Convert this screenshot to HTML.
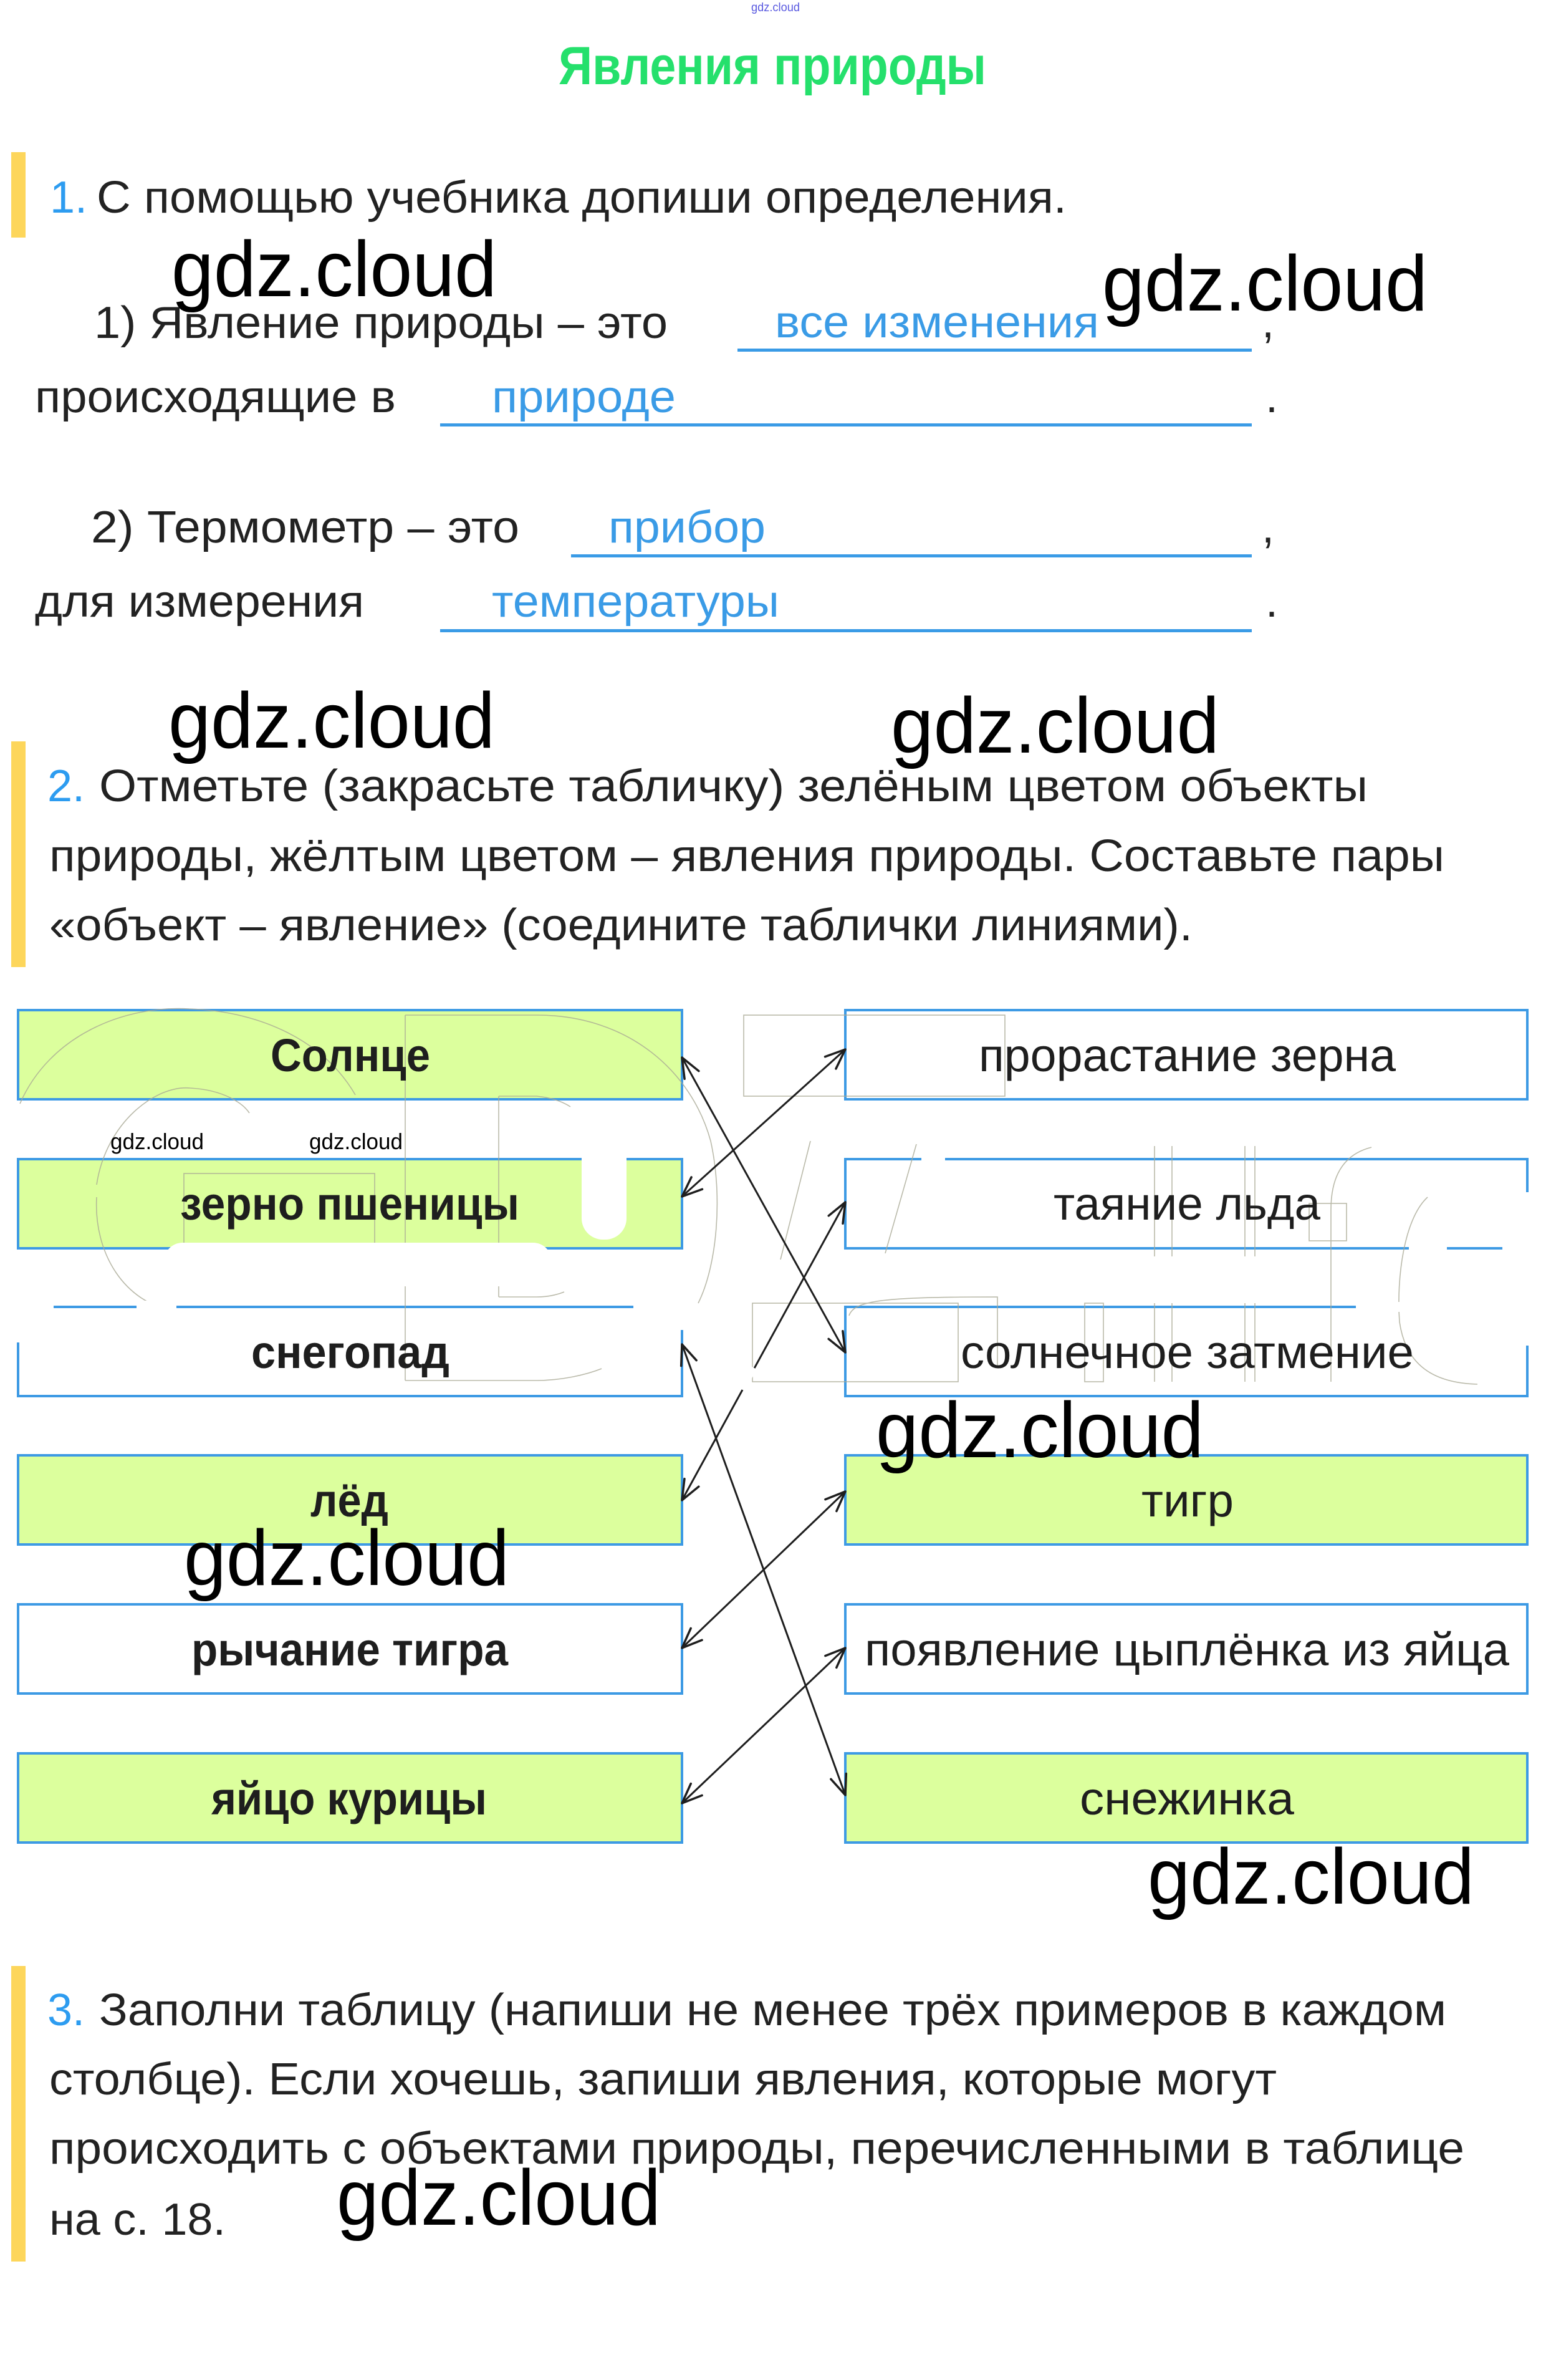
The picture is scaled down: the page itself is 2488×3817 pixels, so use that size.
<!DOCTYPE html>
<html><head><meta charset="utf-8"><style>
html,body{margin:0;padding:0;background:#fff;}
svg{display:block;}
text{font-family:"Liberation Sans","DejaVu Sans",sans-serif;}
</style></head><body>
<svg width="2488" height="3817" viewBox="0 0 2488 3817" xmlns="http://www.w3.org/2000/svg">
<defs>
<marker id="ah" markerUnits="userSpaceOnUse" markerWidth="50" markerHeight="50" viewBox="-40 -25 50 50" refX="0" refY="0" orient="auto-start-reverse">
<path d="M-32,-13 L0,0 L-32,13" fill="none" stroke="#1e1e1e" stroke-width="3.5" stroke-linecap="round" stroke-linejoin="round"/>
</marker>
</defs>
<rect width="2488" height="3817" fill="#fff"/>

<!-- tiny top mark -->
<text x="1205" y="18" font-size="19" fill="#5a5ae0" textLength="78" lengthAdjust="spacingAndGlyphs">gdz.cloud</text>

<!-- Title -->
<text x="896" y="135" font-size="86" font-weight="bold" fill="#25e06c" textLength="686" lengthAdjust="spacingAndGlyphs">Явления природы</text>

<!-- Section 1 -->
<rect x="18" y="244" width="23" height="137" fill="#fdd65b"/>
<text x="80" y="341" font-size="72" fill="#2d9cf0">1.</text>
<text x="155" y="341" font-size="72" fill="#222" textLength="1556" lengthAdjust="spacingAndGlyphs">С помощью учебника допиши определения.</text>

<text x="151" y="542" font-size="72" fill="#222" textLength="920" lengthAdjust="spacingAndGlyphs">1) Явление природы – это</text>
<text x="1243" y="541" font-size="72" fill="#3a9be6" textLength="520" lengthAdjust="spacingAndGlyphs">все изменения</text>
<rect x="1183" y="559" width="825" height="5" fill="#3a9be6"/>
<text x="2024" y="541" font-size="72" fill="#222">,</text>

<text x="56" y="661" font-size="72" fill="#222" textLength="579" lengthAdjust="spacingAndGlyphs">происходящие в</text>
<text x="789" y="661" font-size="72" fill="#3a9be6" textLength="295" lengthAdjust="spacingAndGlyphs">природе</text>
<rect x="706" y="679" width="1302" height="5" fill="#3a9be6"/>
<text x="2030" y="661" font-size="72" fill="#222">.</text>

<text x="146" y="870" font-size="72" fill="#222" textLength="687" lengthAdjust="spacingAndGlyphs">2) Термометр – это</text>
<text x="976" y="870" font-size="72" fill="#3a9be6" textLength="252" lengthAdjust="spacingAndGlyphs">прибор</text>
<rect x="916" y="889" width="1092" height="5" fill="#3a9be6"/>
<text x="2024" y="870" font-size="72" fill="#222">,</text>

<text x="56" y="989" font-size="72" fill="#222" textLength="528" lengthAdjust="spacingAndGlyphs">для измерения</text>
<text x="789" y="989" font-size="72" fill="#3a9be6" textLength="461" lengthAdjust="spacingAndGlyphs">температуры</text>
<rect x="706" y="1009" width="1302" height="5" fill="#3a9be6"/>
<text x="2030" y="989" font-size="72" fill="#222">.</text>

<!-- Section 2 -->
<rect x="18" y="1189" width="23" height="362" fill="#fdd65b"/>
<text x="76" y="1285" font-size="72" fill="#2d9cf0">2.</text>
<text x="159" y="1285" font-size="72" fill="#222" textLength="2035" lengthAdjust="spacingAndGlyphs">Отметьте (закрасьте табличку) зелёным цветом объекты</text>
<text x="79" y="1397" font-size="72" fill="#222" textLength="2238" lengthAdjust="spacingAndGlyphs">природы, жёлтым цветом – явления природы. Составьте пары</text>
<text x="79" y="1508" font-size="72" fill="#222" textLength="1834" lengthAdjust="spacingAndGlyphs">«объект – явление» (соедините таблички линиями).</text>

<!-- Left boxes -->
<g stroke="#3d9ae4" stroke-width="4">
<rect x="29" y="1620" width="1065" height="143" fill="#dcff9d"/>
<rect x="29" y="1859" width="1065" height="143" fill="#dcff9d"/>
<rect x="29" y="2096" width="1065" height="143" fill="#ffffff"/>
<rect x="29" y="2334" width="1065" height="143" fill="#dcff9d"/>
<rect x="29" y="2573" width="1065" height="143" fill="#ffffff"/>
<rect x="29" y="2812" width="1065" height="143" fill="#dcff9d"/>
<!-- Right boxes -->
<rect x="1356" y="1620" width="1094" height="143" fill="#ffffff"/>
<rect x="1356" y="1859" width="1094" height="143" fill="#ffffff"/>
<rect x="1356" y="2096" width="1094" height="143" fill="#ffffff"/>
<rect x="1356" y="2334" width="1094" height="143" fill="#dcff9d"/>
<rect x="1356" y="2573" width="1094" height="143" fill="#ffffff"/>
<rect x="1356" y="2812" width="1094" height="143" fill="#dcff9d"/>
</g>

<!-- faint watermark outlines -->
<g fill="none" stroke="#a9a995" stroke-width="1.6" opacity="0.8">
<path d="M32,1770 C80,1660 200,1612 303,1618 C420,1622 520,1670 570,1756"/>
<path d="M650,1628 L861,1628 C1010,1628 1110,1720 1140,1830 C1160,1920 1150,2030 1120,2090"/>
<line x1="650" y1="1628" x2="650" y2="2214"/>
<path d="M155,1900 C170,1800 250,1740 305,1745 C360,1748 390,1770 400,1785"/>
<path d="M155,1920 C150,2010 200,2090 280,2102"/>
<rect x="295" y="1882" width="306" height="118"/>
<path d="M800,1758 L861,1758 C880,1760 900,1765 915,1775"/>
<line x1="800" y1="1758" x2="800" y2="2080"/>
<path d="M800,2080 L861,2080 C880,2080 895,2076 905,2072"/>
<path d="M650,2214 L861,2214 C900,2214 940,2205 965,2195"/>
<rect x="1193" y="1628" width="419" height="130"/>
<line x1="1852" y1="1838" x2="1852" y2="2015"/>
<line x1="1880" y1="1838" x2="1880" y2="2015"/>
<line x1="1997" y1="1838" x2="1997" y2="2015"/>
<line x1="2013" y1="1838" x2="2013" y2="2015"/>
<line x1="1852" y1="2090" x2="1852" y2="2216"/>
<line x1="1880" y1="2090" x2="1880" y2="2216"/>
<line x1="1997" y1="2090" x2="1997" y2="2216"/>
<line x1="2013" y1="2090" x2="2013" y2="2216"/>
<rect x="1740" y="2090" width="30" height="126"/>
<path d="M2135,2216 L2135,1940 C2135,1880 2160,1850 2200,1840"/>
<path d="M2290,1920 C2252,1955 2240,2050 2245,2120 C2255,2190 2300,2218 2370,2220"/>
<rect x="2100" y="1930" width="60" height="60"/>
<line x1="1300" y1="1830" x2="1252" y2="2020"/>
<line x1="1470" y1="1835" x2="1420" y2="2010"/>
<path d="M1362,2110 C1370,2085 1420,2080 1600,2080 L1600,2190"/>
<rect x="1207" y="2090" width="330" height="126"/>
</g>

<!-- Left labels (bold) -->
<g font-size="74" font-weight="bold" fill="#1e1e1e">
<text x="434" y="1718" textLength="256" lengthAdjust="spacingAndGlyphs">Солнце</text>
<text x="289" y="1956" textLength="544" lengthAdjust="spacingAndGlyphs">зерно пшеницы</text>
<text x="403" y="2194" textLength="318" lengthAdjust="spacingAndGlyphs">снегопад</text>
<text x="498" y="2432" textLength="125" lengthAdjust="spacingAndGlyphs">лёд</text>
<text x="307" y="2671" textLength="508" lengthAdjust="spacingAndGlyphs">рычание тигра</text>
<text x="339" y="2910" textLength="442" lengthAdjust="spacingAndGlyphs">яйцо курицы</text>
</g>
<!-- Right labels (regular) -->
<g font-size="74" fill="#1e1e1e">
<text x="1570" y="1718" textLength="669" lengthAdjust="spacingAndGlyphs">прорастание зерна</text>
<text x="1690" y="1956" textLength="428" lengthAdjust="spacingAndGlyphs">таяние льда</text>
<text x="1541" y="2194" textLength="727" lengthAdjust="spacingAndGlyphs">солнечное затмение</text>
<text x="1831" y="2432" textLength="148" lengthAdjust="spacingAndGlyphs">тигр</text>
<text x="1387" y="2671" textLength="1034" lengthAdjust="spacingAndGlyphs">появление цыплёнка из яйца</text>
<text x="1732" y="2910" textLength="344" lengthAdjust="spacingAndGlyphs">снежинка</text>
</g>

<!-- Connectors -->
<g stroke="#1e1e1e" stroke-width="3" fill="none" marker-start="url(#ah)" marker-end="url(#ah)">
<line x1="1094" y1="1696" x2="1356" y2="2169"/>
<line x1="1094" y1="1919" x2="1356" y2="1683"/>
<line x1="1094" y1="2156" x2="1356" y2="2879"/>
<line x1="1094" y1="2406" x2="1356" y2="1928"/>
<line x1="1094" y1="2643" x2="1356" y2="2392"/>
<line x1="1094" y1="2892" x2="1356" y2="2643"/>
</g>

<!-- white watermark cut-outs -->
<g fill="#ffffff">
<rect x="933" y="1850" width="72" height="138" rx="34"/>
<rect x="933" y="1850" width="72" height="60"/>
<rect x="263" y="1993" width="622" height="70" rx="30"/>
<rect x="18" y="2086" width="68" height="67"/>
<rect x="219" y="2086" width="64" height="18"/>
<rect x="1016" y="2086" width="86" height="47"/>
<rect x="1478" y="1850" width="38" height="18"/>
<rect x="2443" y="1912" width="14" height="172"/>
<rect x="2260" y="1994" width="61" height="14"/>
<rect x="2410" y="1994" width="48" height="14"/>
<rect x="2175" y="2088" width="283" height="16"/>
<rect x="2443" y="2084" width="14" height="74"/>
</g>
<line x1="1191" y1="2229" x2="1210" y2="2194" stroke="#ffffff" stroke-width="9"/>

<!-- Big watermarks -->
<g font-size="126" fill="#000">
<text x="275" y="475" textLength="522" lengthAdjust="spacingAndGlyphs">gdz.cloud</text>
<text x="1768" y="498" textLength="522" lengthAdjust="spacingAndGlyphs">gdz.cloud</text>
<text x="270" y="1199" textLength="524" lengthAdjust="spacingAndGlyphs">gdz.cloud</text>
<text x="1429" y="1207" textLength="527" lengthAdjust="spacingAndGlyphs">gdz.cloud</text>
<text x="295" y="2542" textLength="522" lengthAdjust="spacingAndGlyphs">gdz.cloud</text>
<text x="1405" y="2337" textLength="526" lengthAdjust="spacingAndGlyphs">gdz.cloud</text>
<text x="1841" y="3053" textLength="524" lengthAdjust="spacingAndGlyphs">gdz.cloud</text>
<text x="540" y="3568" textLength="520" lengthAdjust="spacingAndGlyphs">gdz.cloud</text>
</g>
<g font-size="36" fill="#000">
<text x="177" y="1843" textLength="150" lengthAdjust="spacingAndGlyphs">gdz.cloud</text>
<text x="496" y="1843" textLength="150" lengthAdjust="spacingAndGlyphs">gdz.cloud</text>
</g>

<!-- Section 3 -->
<rect x="18" y="3153" width="23" height="474" fill="#fdd65b"/>
<text x="76" y="3248" font-size="72" fill="#2d9cf0">3.</text>
<text x="159" y="3248" font-size="72" fill="#222" textLength="2161" lengthAdjust="spacingAndGlyphs">Заполни таблицу (напиши не менее трёх примеров в каждом</text>
<text x="79" y="3359" font-size="72" fill="#222" textLength="1969" lengthAdjust="spacingAndGlyphs">столбце). Если хочешь, запиши явления, которые могут</text>
<text x="79" y="3470" font-size="72" fill="#222" textLength="2270" lengthAdjust="spacingAndGlyphs">происходить с объектами природы, перечисленными в таблице</text>
<text x="79" y="3584" font-size="72" fill="#222" textLength="283" lengthAdjust="spacingAndGlyphs">на с. 18.</text>
</svg>
</body></html>
